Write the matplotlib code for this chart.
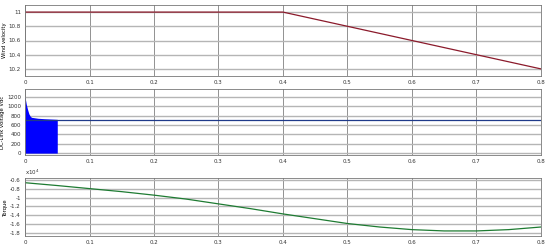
import matplotlib
matplotlib.use("Agg")
import matplotlib.pyplot as plt

# wind velocity (m/s)
wind_t = [0, 0.4, 0.8]
wind_v = [11, 11, 10.2]

# DC-link voltage: startup envelope (filled) and steady line
vdc_t = [0, 0.001, 0.002, 0.004, 0.006, 0.008, 0.01, 0.02, 0.03, 0.05]
vdc_top = [1200, 1120, 1040, 930, 840, 790, 765, 745, 735, 722]
vdc_line_t = [0, 0.8]
vdc_line = [700, 700]

# torque (x1e4)
tq_t = [0, 0.05, 0.1, 0.15, 0.2, 0.25, 0.3, 0.35, 0.4, 0.45, 0.5, 0.55, 0.6, 0.65, 0.7, 0.75, 0.8]
tq_v = [-0.655, -0.72, -0.79, -0.86, -0.94, -1.03, -1.14, -1.25, -1.37, -1.48,
        -1.59, -1.67, -1.73, -1.76, -1.76, -1.73, -1.67]

xticks = [0, 0.1, 0.2, 0.3, 0.4, 0.5, 0.6, 0.7, 0.8]
xlabels = ["0", "0.1", "0.2", "0.3", "0.4", "0.5", "0.6", "0.7", "0.8"]

fig = plt.figure(figsize=(5.5, 2.5), dpi=100)
ax1 = fig.add_axes([0.0455, 0.696, 0.938, 0.284])
ax2 = fig.add_axes([0.0455, 0.38, 0.938, 0.264])
ax3 = fig.add_axes([0.0455, 0.056, 0.938, 0.232])

def style(ax, yticks, ylabel):
	ax.set_xlim(0, 0.8)
	ax.set_xticks(xticks)
	ax.set_xticklabels(xlabels)
	ax.set_yticks(yticks)
	ax.tick_params(labelsize=4, length=0, pad=3, colors="#333333")
	ax.set_ylabel(ylabel, fontsize=3.8, labelpad=1.5)
	ax.grid(axis="x", color="#666666", lw=0.5)
	ax.grid(axis="y", color="#b5b5b5", lw=1.0)
	ax.set_axisbelow(True)
	for s in ax.spines.values():
		s.set_color("#777777")
		s.set_linewidth(0.6)

ax1.plot(wind_t, wind_v, color="#8b1a2b", lw=0.9)
ax1.set_ylim(10.1, 11.1)
style(ax1, [10.2, 10.4, 10.6, 10.8, 11], "Wind velocity")
ax1.set_yticklabels(["10.2", "10.4", "10.6", "10.8", "11"])

ax2.fill_between(vdc_t, 0, vdc_top, color="#0000ff", lw=0)
ax2.plot(vdc_line_t, vdc_line, color="#1f3a8a", lw=0.9)
ax2.set_ylim(-40, 1370)
style(ax2, [0, 200, 400, 600, 800, 1000, 1200], "DC-Link voltage Vdc")

ax3.plot(tq_t, tq_v, color="#1e7b32", lw=0.9)
ax3.set_ylim(-1.876, -0.547)
style(ax3, [-1.8, -1.6, -1.4, -1.2, -1, -0.8, -0.6], "Torque")
ax3.set_yticklabels(["-1.8", "-1.6", "-1.4", "-1.2", "-1", "-0.8", "-0.6"])
ax3.text(0.0, 1.02, "x10$^4$", transform=ax3.transAxes, fontsize=4, va="bottom", color="#333333")

fig.savefig("out.png", dpi=100)
